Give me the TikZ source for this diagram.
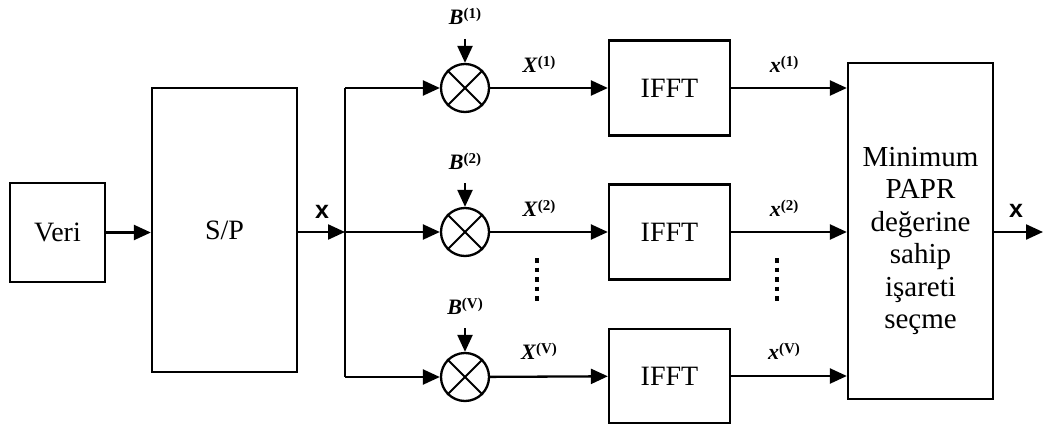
\documentclass[tikz,border=0pt]{standalone}
\usepackage{fontspec}
\setmainfont{Liberation Serif}
\newfontfamily\labelsans{Liberation Sans}
\usetikzlibrary{arrows.meta}
\newcommand{\supl}[1]{\raisebox{0.6ex}{\fontsize{15}{16}\selectfont\bfseries(#1)}}
\begin{document}
\begin{tikzpicture}[x=1pt,y=-1pt,
  line width=2.3pt,
  blockbox/.style={draw, rectangle, inner sep=0pt, font=\fontsize{28}{32.5}\selectfont, align=center},
  mixer/.style={draw, circle, minimum size=48pt, inner sep=0pt},
  sig/.style={-{Triangle[length=17pt,width=15pt]}},
  sym/.style={font=\fontsize{22}{24}\selectfont\bfseries, inner sep=0pt},
  vec/.style={font=\labelsans\bfseries\fontsize{25}{27}\selectfont, inner sep=0pt},
  dotline/.style={line width=4.5pt, dash pattern=on 4.5pt off 5pt}
]
\useasboundingbox (0,0) rectangle (1046,425);

% source, serial/parallel converter
\node[blockbox, minimum width=95pt, minimum height=99pt] (veri) at (57.5,232.5) {Veri};
\node[blockbox, minimum width=145pt, minimum height=284pt] (sp) at (224.5,230) {S/P};

% branching point
\coordinate (j) at (345,232);
\coordinate (jt) at (345,88);
\coordinate (jb) at (345,377);

% phase multipliers
\foreach \n/\y in {1/88, 2/232, 3/377} {
  \node[mixer] (m\n) at (465,\y) {};
  \draw[line width=1.8pt] (m\n.north west) -- (m\n.south east);
  \draw[line width=1.8pt] (m\n.north east) -- (m\n.south west);
}

% IFFT blocks
\node[blockbox, minimum width=121pt, minimum height=95pt] (f1) at (669.5,88) {IFFT};
\node[blockbox, minimum width=121pt, minimum height=95pt] (f2) at (669.5,232) {IFFT};
\node[blockbox, minimum width=121pt, minimum height=94pt] (f3) at (669.5,376) {IFFT};

% selection block and its caption
\node[blockbox, minimum width=145pt, minimum height=336pt] (sel) at (920.5,231) {};
\node[font=\fontsize{29}{32.5}\selectfont, align=center, inner sep=0pt] (seltext) at (920.5,241)
  {Minimum\\PAPR\\değerine\\sahip\\işareti\\seçme};
\coordinate (out) at (1043,232);

% phase sequences
\node[sym] (b1) at (465,16) {\textit{B}\supl{1}};
\node[sym] (b2) at (465,161) {\textit{B}\supl{2}};
\node[sym] (b3) at (465,306) {\textit{B}\supl{V}};
\coordinate (b1s) at (465,39);
\coordinate (b2s) at (465,183);
\coordinate (b3s) at (465,328);

% connectors
\draw[sig] (veri.east) -- (veri.east -| sp.west);
\draw[sig] (sp.east |- j) -- (j);
\draw (jt) -- (jb);
\draw[sig] (jt) -- (m1);
\draw[sig] (j) -- (m2);
\draw[sig] (jb) -- (m3);
\draw[sig] (b1s) -- (m1);
\draw[sig] (b2s) -- (m2);
\draw[sig] (b3s) -- (m3);
\draw[sig] (m1) -- (f1);
\draw[sig] (m2) -- (f2);
\draw[sig] (m3) -- (f3);
\draw[sig] (f1.east) -- (f1.east -| sel.west);
\draw[sig] (f2.east) -- (f2.east -| sel.west);
\draw[sig] (f3.east) -- (f3.east -| sel.west);
\draw[sig] (sel.east |- out) -- (out);

% signal labels
\node[vec] (xin) at (322,212) {x};
\node[vec] (xout) at (1016,211) {x};
\node[sym] (X1) at (539,64) {\textit{X}\supl{1}};
\node[sym] (X2) at (539,208) {\textit{X}\supl{2}};
\node[sym] (X3) at (539,351) {\textit{X}\supl{V}};
\node[sym] (x1) at (784,64) {\textit{x}\supl{1}};
\node[sym] (x2) at (784,208) {\textit{x}\supl{2}};
\node[sym] (x3) at (784,351) {\textit{x}\supl{V}};

% ellipsis between branches
\draw[dotline] (537,258) -- (537,303);
\draw[dotline] (777,258) -- (777,303);
\end{tikzpicture}
\end{document}
